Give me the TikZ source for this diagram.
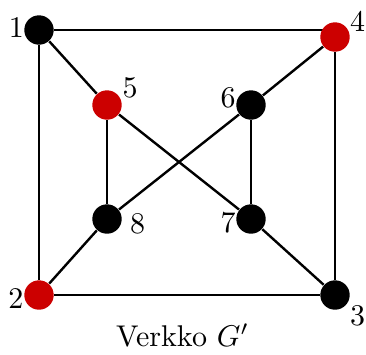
\documentclass[tikz,border=0pt]{standalone}
\usetikzlibrary{backgrounds}
\definecolor{vred}{RGB}{204,0,0}
\begin{document}
\begin{tikzpicture}[x=0.3333pt,y=-0.3333pt,
  vtx/.style={circle,fill=black,minimum size=9.8pt,inner sep=0pt},
  lbl/.style={inner sep=0pt},
  link/.style={thick}]
  \useasboundingbox (0,0) rectangle (366,354);
  % vertices
  \foreach \n/\x/\y/\c in {1/39/30/black,2/39/295/vred,3/335/295/black,4/335/37/vred,
                           5/107/105/vred,6/251/105/black,7/251/219/black,8/107/219/black}
    { \node[vtx,fill=\c] (v\n) at (\x,\y) {}; }
  % numbers
  \foreach \n/\x/\y in {1/16.5/27,2/16/298.5,3/357.5/315.5,4/357.5/21.5,
                        5/130/87.5,6/228/98,7/228/222.5,8/137.5/223.5}
    { \node[lbl] (l\n) at (\x,\y) {\n}; }
  \node[anchor=base] (cap) at (182.5,346.5) {Verkko $G'$};
  % edges
  \begin{pgfonlayer}{background}
    \draw[link] (v1) -- (v1 -| v4);
    \foreach \a/\b in {1/2,4/3,2/3,1/5,4/6,5/8,6/7,5/7,6/8,8/2,7/3}
      { \draw[link] (v\a) -- (v\b); }
  \end{pgfonlayer}
\end{tikzpicture}
\end{document}
